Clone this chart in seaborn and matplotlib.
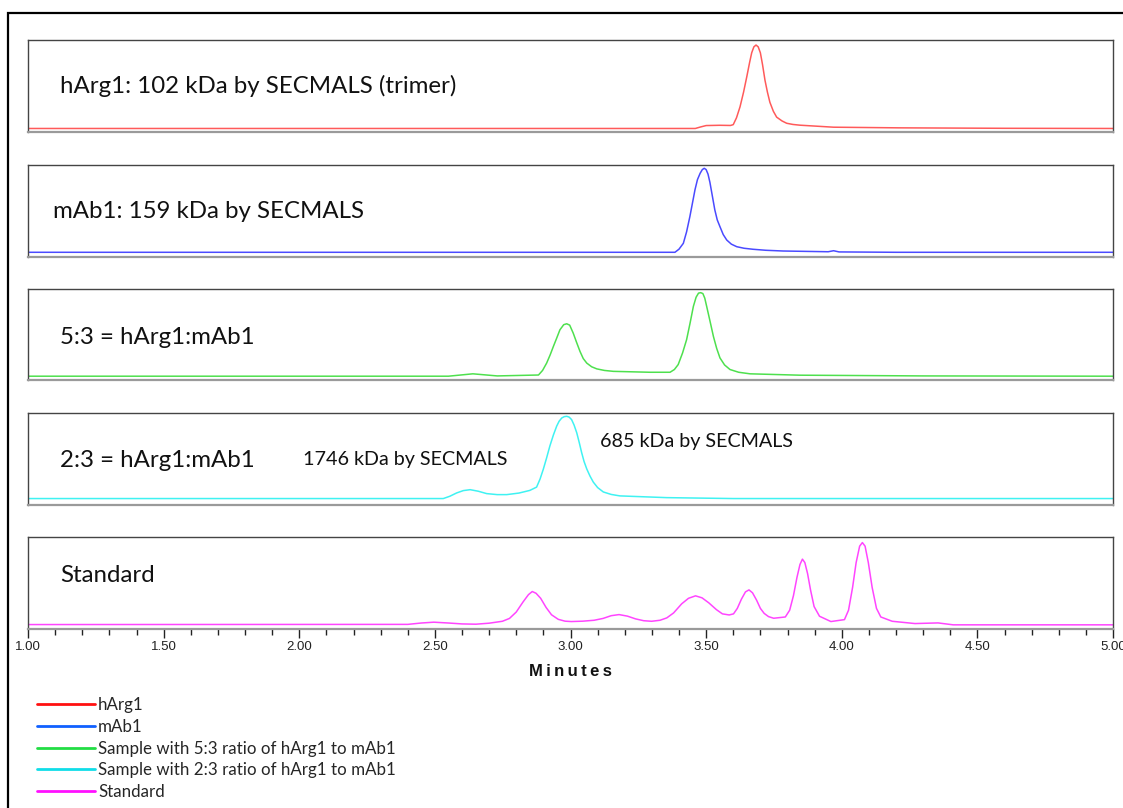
import numpy as np
import pandas as pd
import matplotlib
matplotlib.use("Agg")
import matplotlib.pyplot as plt
import seaborn as sns
from matplotlib.lines import Line2D
from matplotlib.patches import Rectangle
from matplotlib.ticker import MultipleLocator, FormatStrFormatter

# --- Traces (time in minutes, signal as fraction of panel height) ---
HARG1_T = [1.00, 3.46, 3.48, 3.50, 3.55, 3.59, 3.60, 3.612, 3.625, 3.638, 3.65, 3.66, 3.668,
           3.676, 3.684, 3.692, 3.70, 3.708, 3.717, 3.726, 3.735, 3.748, 3.76, 3.78, 3.797,
           3.82, 3.846, 3.97, 4.21, 4.60, 5.00]
HARG1_V = [0.033, 0.033, 0.05, 0.065, 0.068, 0.066, 0.075, 0.15, 0.27, 0.43, 0.60, 0.75, 0.86,
           0.925, 0.945, 0.925, 0.86, 0.73, 0.56, 0.43, 0.32, 0.22, 0.157, 0.115, 0.09,
           0.077, 0.069, 0.047, 0.04, 0.035, 0.033]

MAB1_T = [1.00, 3.385, 3.40, 3.416, 3.428, 3.44, 3.45, 3.459, 3.468, 3.478, 3.486, 3.493,
          3.50, 3.507, 3.514, 3.523, 3.532, 3.541, 3.551, 3.563, 3.576, 3.593, 3.613, 3.64,
          3.673, 3.72, 3.784, 3.95, 3.97, 3.99, 4.20, 5.00]
MAB1_V = [0.046, 0.046, 0.08, 0.144, 0.27, 0.435, 0.59, 0.73, 0.84, 0.91, 0.95, 0.964,
          0.95, 0.90, 0.81, 0.66, 0.51, 0.40, 0.326, 0.24, 0.18, 0.135, 0.107, 0.09,
          0.079, 0.068, 0.06, 0.052, 0.063, 0.05, 0.046, 0.046]

MIX53_T = [1.00, 2.55, 2.64, 2.73, 2.882, 2.897, 2.912, 2.925, 2.937, 2.95, 2.961, 2.975,
           2.986, 2.997, 3.01, 3.022, 3.035, 3.047, 3.06, 3.078, 3.097, 3.125, 3.158, 3.293,
           3.367, 3.383, 3.397, 3.413, 3.428, 3.441, 3.453, 3.463, 3.472, 3.48, 3.488, 3.495,
           3.502, 3.515, 3.527, 3.539, 3.551, 3.568, 3.588, 3.62, 3.662, 3.846, 4.30, 5.00]
MIX53_V = [0.047, 0.047, 0.073, 0.05, 0.06, 0.11, 0.19, 0.28, 0.373, 0.47, 0.554, 0.61,
           0.62, 0.605, 0.518, 0.42, 0.318, 0.24, 0.19, 0.15, 0.127, 0.11, 0.10, 0.09,
           0.09, 0.12, 0.174, 0.30, 0.446, 0.63, 0.81, 0.91, 0.955, 0.96, 0.95, 0.90,
           0.81, 0.64, 0.48, 0.35, 0.247, 0.17, 0.12, 0.09, 0.073, 0.058, 0.05, 0.047]

MIX23_T = [1.00, 2.531, 2.555, 2.58, 2.605, 2.63, 2.66, 2.691, 2.73, 2.765, 2.81, 2.85,
           2.875, 2.888, 2.90, 2.912, 2.924, 2.937, 2.949, 2.958, 2.968, 2.977, 2.986, 2.995,
           3.004, 3.013, 3.023, 3.032, 3.041, 3.05, 3.06, 3.072, 3.084, 3.10, 3.121, 3.15,
           3.182, 3.355, 3.60, 5.00]
MIX23_V = [0.065, 0.065, 0.09, 0.126, 0.152, 0.162, 0.145, 0.119, 0.108, 0.108, 0.125, 0.154,
           0.19, 0.28, 0.388, 0.51, 0.64, 0.76, 0.856, 0.91, 0.946, 0.96, 0.964, 0.955,
           0.928, 0.87, 0.784, 0.68, 0.568, 0.47, 0.388, 0.31, 0.245, 0.185, 0.137, 0.11,
           0.094, 0.075, 0.065, 0.065]

STD_T = [1.00, 2.40, 2.45, 2.496, 2.55, 2.60, 2.651, 2.70, 2.749, 2.775, 2.80, 2.825, 2.845,
         2.859, 2.873, 2.89, 2.91, 2.93, 2.955, 2.98, 3.003, 3.045, 3.087, 3.12, 3.15, 3.179,
         3.21, 3.24, 3.27, 3.299, 3.33, 3.355, 3.38, 3.41, 3.435, 3.461, 3.485, 3.51, 3.538,
         3.56, 3.585, 3.601, 3.615, 3.63, 3.645, 3.658, 3.671, 3.686, 3.70, 3.714, 3.73,
         3.749, 3.792, 3.808, 3.822, 3.835, 3.846, 3.855, 3.864, 3.874, 3.885, 3.898, 3.918,
         3.96, 4.01, 4.025, 4.040, 4.053, 4.066, 4.076, 4.086, 4.098, 4.112, 4.128, 4.144,
         4.186, 4.27, 4.355, 4.411, 5.00]
STD_V = [0.043, 0.045, 0.06, 0.069, 0.06, 0.05, 0.047, 0.058, 0.079, 0.11, 0.18, 0.29, 0.37,
         0.404, 0.385, 0.33, 0.23, 0.15, 0.10, 0.08, 0.076, 0.08, 0.09, 0.11, 0.14, 0.152,
         0.135, 0.105, 0.085, 0.079, 0.09, 0.116, 0.17, 0.27, 0.33, 0.357, 0.335, 0.28, 0.206,
         0.16, 0.148, 0.16, 0.22, 0.32, 0.40, 0.422, 0.39, 0.31, 0.22, 0.165, 0.13,
         0.112, 0.126, 0.20, 0.36, 0.56, 0.70, 0.758, 0.72, 0.60, 0.42, 0.24, 0.134,
         0.076, 0.097, 0.20, 0.45, 0.72, 0.90, 0.939, 0.90, 0.72, 0.45, 0.22, 0.126,
         0.079, 0.054, 0.061, 0.04, 0.04]

PANEL_TITLES = ["hArg1: 102 kDa by SECMALS (trimer)", "mAb1: 159 kDa by SECMALS",
                "5:3 = hArg1:mAb1", "2:3 = hArg1:mAb1", "Standard"]
LEGEND_LABELS = ["hArg1", "mAb1", "Sample with 5:3 ratio of hArg1 to mAb1",
                 "Sample with 2:3 ratio of hArg1 to mAb1", "Standard"]
TRACE_COLORS = ["#ff5a5a", "#4a4aff", "#4ee04e", "#3ff2f2", "#ff45ff"]
LEGEND_COLORS = ["#ff1010", "#1060ff", "#22dd44", "#10dde8", "#ff10ff"]

traces = [(HARG1_T, HARG1_V), (MAB1_T, MAB1_V), (MIX53_T, MIX53_V),
          (MIX23_T, MIX23_V), (STD_T, STD_V)]

# --- Figure setup ---
sns.set_style("white")
plt.rcParams["font.family"] = ["Lato", "DejaVu Sans"]

W, H = 1123, 808
fig = plt.figure(figsize=(W / 100, H / 100), dpi=100)

# outer frame of the slide
fig.patches.append(Rectangle((8 / W, -0.2), 1.2, 1 - 13 / H + 0.2, transform=fig.transFigure,
                             fill=False, edgecolor="black", linewidth=1.6, clip_on=False))

panel_tops = [40, 165, 289, 413, 537]
panel_h = 91.5
left, right = 28, 1113

axes = []
for i, ((t, v), top) in enumerate(zip(traces, panel_tops)):
    ax = fig.add_axes([left / W, 1 - (top + panel_h) / H, (right - left) / W, panel_h / H])
    df = pd.DataFrame({"Minutes": t, "signal": v})
    sns.lineplot(data=df, x="Minutes", y="signal", ax=ax, color=TRACE_COLORS[i], linewidth=1.1)
    ax.set_xlim(1.0, 5.0)
    ax.set_ylim(0, 1)
    ax.set_ylabel("")
    ax.set_yticks([])
    for s in ["top", "left", "right"]:
        ax.spines[s].set_color("#444444")
        ax.spines[s].set_linewidth(1.0)
    ax.spines["bottom"].set_color("#9a9a9a")
    ax.spines["bottom"].set_linewidth(1.6)
    axes.append(ax)
    if i < 4:
        ax.set_xticks([])
        ax.set_xlabel("")

# panel annotations
title_x = [60, 53, 60, 60, 60]
title_y = [86, 212, 337, 461, 576]
for x, y, s in zip(title_x, title_y, PANEL_TITLES):
    fig.text(x / W, 1 - y / H, s, fontsize=17.3, va="center", ha="left", color="#111111")
fig.text(303 / W, 1 - 460 / H, "1746 kDa by SECMALS", fontsize=14.2, va="center", ha="left",
         color="#111111")
fig.text(600 / W, 1 - 441 / H, "685 kDa by SECMALS", fontsize=14.2, va="center", ha="left",
         color="#111111")

# bottom axis
ax = axes[-1]
ax.xaxis.set_major_locator(MultipleLocator(0.5))
ax.xaxis.set_minor_locator(MultipleLocator(0.1))
ax.xaxis.set_major_formatter(FormatStrFormatter("%.2f"))
ax.tick_params(axis="x", which="major", direction="out", length=6.5, width=1, color="#222222",
               pad=2.5, labelsize=9.5, bottom=True)
ax.tick_params(axis="x", which="minor", direction="out", length=4.3, width=1, color="#222222",
               bottom=True)
for lab in ax.get_xticklabels():
    lab.set_family("Liberation Sans")
    lab.set_color("#222222")
ax.set_xlabel("M\u2009i\u2009n\u2009u\u2009t\u2009e\u2009s", fontsize=12, fontweight="bold",
              family=["Liberation Sans", "DejaVu Sans"], labelpad=8, color="#111111")

# legend
handles = [Line2D([], [], color=c, linewidth=2) for c in LEGEND_COLORS]
fig.legend(handles, LEGEND_LABELS, loc="upper left", bbox_to_anchor=(37 / W, 1 - 697 / H),
           frameon=False, fontsize=12.2, handlelength=3.45, handletextpad=0.15,
           labelspacing=0.34, borderpad=0, borderaxespad=0)

fig.savefig("out.png", dpi=100)
